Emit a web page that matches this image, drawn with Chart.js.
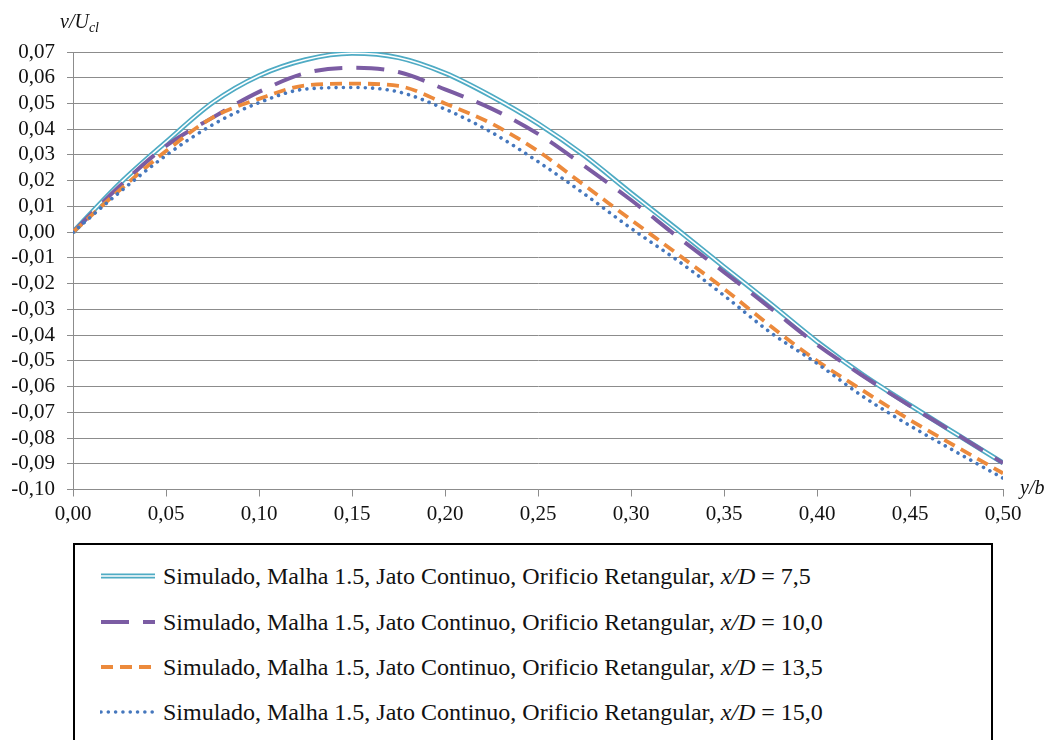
<!DOCTYPE html>
<html>
<head>
<meta charset="utf-8">
<script src="https://cdn.jsdelivr.net/npm/chart.js@4.4.0/dist/chart.umd.min.js"></script>
<style>
  html, body { margin: 0; padding: 0; background: #fff; width: 1055px; height: 740px; overflow: hidden; }
  #wrap { position: absolute; left: 0; top: 0; width: 1055px; height: 530px; }
  #legend {
    position: absolute; left: 73px; top: 543px; width: 916px; height: 230px;
    border: 2px solid #000; font-family: "Liberation Serif", "Times New Roman", Times, "DejaVu Serif", serif;
    font-size: 24px; color: #111;
  }
  .item { position: absolute; left: 25px; height: 30px; display: flex; align-items: center; white-space: nowrap; }
  .item svg { width: 56px; height: 10px; margin-right: 7px; }
</style>
</head>
<body>
<div id="wrap"><canvas id="myChart"></canvas></div>
<div id="legend"></div>
<script>
// y/b positions along the profile
const yb = [0, 0.025, 0.05, 0.075, 0.1, 0.125, 0.15, 0.175, 0.2, 0.225, 0.25,
            0.275, 0.3, 0.325, 0.35, 0.375, 0.4, 0.425, 0.45, 0.475, 0.5];

// v/Ucl for each station x/D
const v75  = [0, 0.0188, 0.0350, 0.0503, 0.0608, 0.0670, 0.0695, 0.0678, 0.0618, 0.0528, 0.0422,
              0.0297, 0.0152, 0.0010, -0.0135, -0.0278, -0.0425, -0.0556, -0.0672, -0.0785, -0.0897];
const v100 = [0, 0.0178, 0.0335, 0.0445, 0.0545, 0.0618, 0.0639, 0.0622, 0.0555, 0.0480, 0.0382,
              0.0257, 0.0125, -0.0018, -0.0155, -0.0295, -0.0437, -0.0560, -0.0675, -0.0785, -0.0897];
const v135 = [0, 0.0163, 0.0315, 0.0445, 0.0518, 0.0570, 0.0577, 0.0568, 0.0500, 0.0422, 0.0315,
              0.0182, 0.0048, -0.0085, -0.0220, -0.0365, -0.0500, -0.0617, -0.0730, -0.0834, -0.0937];
const v150 = [0, 0.0155, 0.0298, 0.0417, 0.0503, 0.0556, 0.0562, 0.0545, 0.0478, 0.0388, 0.0274,
              0.0148, 0.0015, -0.0110, -0.0246, -0.0390, -0.0510, -0.0640, -0.0752, -0.0855, -0.0956];

const seriesName = 'Simulado, Malha 1.5, Jato Continuo, Orificio Retangular';
const xD = ['7,5', '10,0', '13,5', '15,0'];

const serif = '"Liberation Serif", "Times New Roman", Times, "DejaVu Serif", serif';
const gridGray = '#8c8c8c';

function pts(vals) {
  return yb.map((x, i) => ({ x: x, y: vals[i] }));
}
function comma(v) {
  if (Math.abs(v) < 1e-9) v = 0;
  return v.toFixed(2).replace('.', ',');
}

const base = { pointRadius: 0, fill: false, cubicInterpolationMode: 'monotone' };

const datasets = [
  Object.assign({}, base, { label: seriesName + ', x/D = ' + xD[0], data: pts(v75),
    borderColor: '#4fabc4', borderWidth: 5, order: 5 }),
  // white core of the double line
  Object.assign({}, base, { label: '', data: pts(v75), borderColor: '#ffffff',
    borderWidth: 1.6, order: 4, inner: true }),
  Object.assign({}, base, { label: seriesName + ', x/D = ' + xD[1], data: pts(v100),
    borderColor: '#7b5ca3', borderWidth: 4, borderDash: [28, 14], order: 3 }),
  Object.assign({}, base, { label: seriesName + ', x/D = ' + xD[2], data: pts(v135),
    borderColor: '#ec8a3c', borderWidth: 3.8, borderDash: [12, 7], order: 2 }),
  Object.assign({}, base, { label: seriesName + ', x/D = ' + xD[3], data: pts(v150),
    borderColor: '#4577bd', borderWidth: 3.6, borderDash: [0.01, 7.3], borderCapStyle: 'round', order: 1 })
];

const axisTitles = {
  id: 'axisTitles',
  afterDraw(chart) {
    const c = chart.ctx;
    c.save();
    c.fillStyle = '#111';
    c.textBaseline = 'alphabetic';
    c.font = 'italic 20px ' + serif;
    c.fillText('v/U', 60, 28);
    const w = c.measureText('v/U').width;
    c.font = 'italic 14px ' + serif;
    c.fillText('cl', 60 + w, 32);
    c.font = 'italic 20px ' + serif;
    c.fillText('y/b', 1020, 494);
    c.restore();
  }
};

function build() {
  var ctx = document.getElementById('myChart');
  var myChart = new Chart(ctx, {
    type: 'line',
    data: { datasets: datasets },
    plugins: [axisTitles],
    options: {
      responsive: true,
      maintainAspectRatio: false,
      animation: false,
      layout: { padding: { top: 52, right: 52, left: 0, bottom: 0 } },
      plugins: { legend: { display: false }, tooltip: { enabled: false } },
      scales: {
        x: {
          type: 'linear', min: 0, max: 0.5,
          afterFit(s) { s.height = 40.5; },
          ticks: { stepSize: 0.05, autoSkip: false, color: '#111', padding: 5,
            font: { family: serif, size: 21 }, callback: v => comma(v) },
          grid: { drawOnChartArea: false, drawTicks: true, tickLength: 7, color: gridGray },
          border: { color: gridGray, width: 1 }
        },
        y: {
          min: -0.1, max: 0.07,
          afterFit(s) { s.width = 73; },
          ticks: { stepSize: 0.01, autoSkip: false, color: '#111', padding: 12,
            font: { family: serif, size: 21 }, callback: v => comma(v) },
          grid: { color: gridGray, lineWidth: 1, tickLength: 6 },
          border: { color: gridGray, width: 1 }
        }
      }
    }
  });
}

// legend below the plot, styled from the datasets
function sample(ds) {
  let s = '<svg viewBox="0 0 56 10">';
  const dash = ds.borderDash ? ' stroke-dasharray="' + ds.borderDash.join(' ') + '"' : '';
  const cap = ds.borderCapStyle === 'round' ? ' stroke-linecap="round"' : '';
  s += '<line x1="1" y1="5" x2="55" y2="5" stroke="' + ds.borderColor + '" stroke-width="' + ds.borderWidth + '"' + dash + cap + '/>';
  if (ds.borderWidth === 5) {
    s += '<line x1="1" y1="5" x2="55" y2="5" stroke="#fff" stroke-width="1.6"/>';
  }
  return s + '</svg>';
}
const legend = document.getElementById('legend');
const rowTops = [16, 62, 107, 152];
let k = 0;
datasets.forEach(ds => {
  if (ds.inner) return;
  const div = document.createElement('div');
  div.className = 'item';
  div.style.top = rowTops[k] + 'px';
  div.innerHTML = sample(ds) + '<span>' + seriesName + ', <i>x/D</i> = ' + xD[k] + '</span>';
  legend.appendChild(div);
  k++;
});

if (document.fonts && document.fonts.load) {
  Promise.all([
    document.fonts.load('21px "Liberation Serif"'),
    document.fonts.load('italic 20px "Liberation Serif"')
  ]).then(build, build);
} else {
  build();
}
</script>
</body>
</html>
